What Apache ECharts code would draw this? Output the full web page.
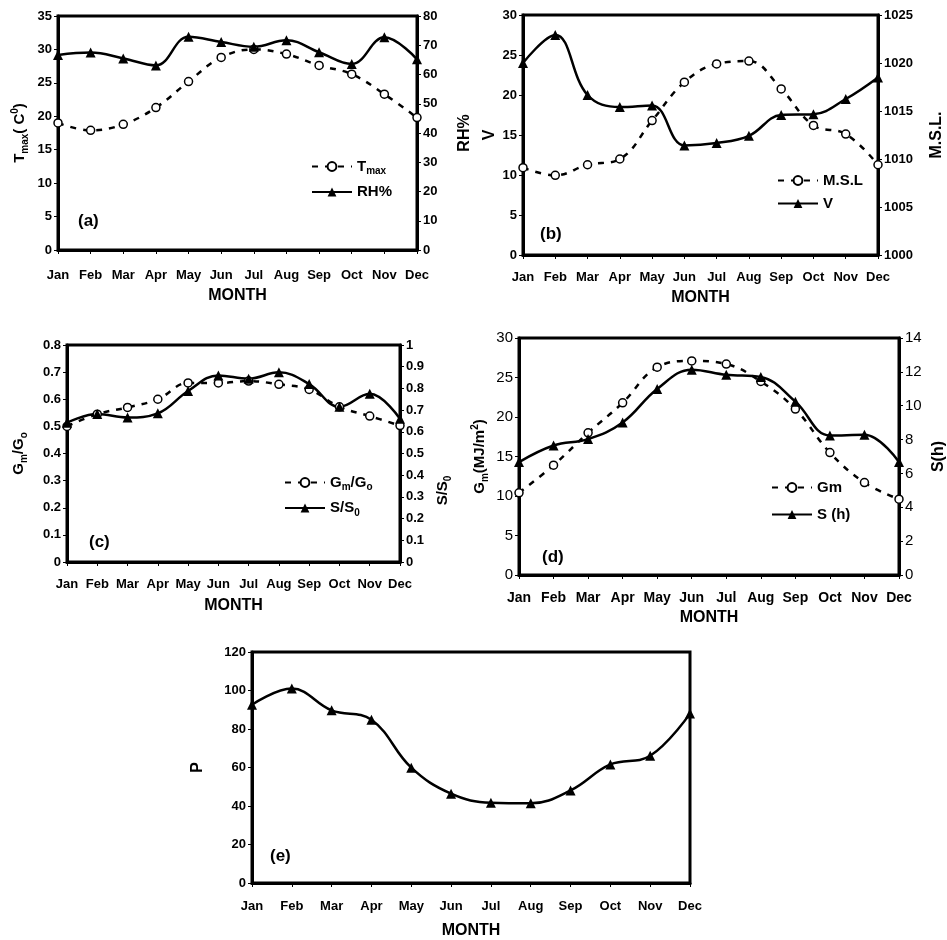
<!DOCTYPE html>
<html>
<head>
	<meta charset="utf-8"/>
	<title>Monthly climate parameters</title>
	<script type="text/javascript" src="https://cdn.jsdelivr.net/npm/echarts@6/dist/echarts.min.js"></script>
	<style type="text/css">
		html, body { margin: 0; padding: 0; background: #fff; }
		#chart { width: 947px; height: 940px; }
	</style>
</head>
<body>
	<div id="chart"></div>
<script type="text/javascript">
	var months = ['Jan', 'Feb', 'Mar', 'Apr', 'May', 'Jun', 'Jul', 'Aug', 'Sep', 'Oct', 'Nov', 'Dec'];

	// (a) max temperature and relative humidity
	var tmaxData = [19.0, 17.9, 18.8, 21.3, 25.2, 28.8, 30.0, 29.3, 27.6, 26.3, 23.3, 19.8];
	var rhData = [66.7, 67.5, 65.5, 63.1, 72.9, 71.1, 69.5, 71.7, 67.6, 63.6, 72.7, 65.2];
	// (b) wind speed and mean sea level pressure
	var vData = [24.0, 27.5, 20.0, 18.5, 18.7, 13.7, 14.0, 14.9, 17.5, 17.6, 19.5, 22.2];
	var mslData = [1009.1, 1008.3, 1009.4, 1010.0, 1014.0, 1018.0, 1019.9, 1020.2, 1017.3, 1013.5, 1012.6, 1009.4];
	// (c) clearness index and relative sunshine
	var gmgoData = [0.50, 0.545, 0.57, 0.60, 0.66, 0.66, 0.667, 0.655, 0.636, 0.572, 0.538, 0.503];
	var ssoData = [0.642, 0.682, 0.666, 0.685, 0.788, 0.86, 0.845, 0.874, 0.82, 0.715, 0.775, 0.66];
	// (d) global radiation and sunshine hours
	var gmData = [10.4, 13.9, 18.0, 21.8, 26.3, 27.1, 26.7, 24.5, 21.0, 15.5, 11.7, 9.6];
	var shData = [6.67, 7.65, 8.03, 9.01, 10.99, 12.13, 11.83, 11.7, 10.24, 8.24, 8.28, 6.67];
	// (e) precipitation
	var pData = [92.6, 101, 89.7, 84.8, 59.9, 46.4, 41.7, 41.4, 48.1, 61.6, 66.1, 88];

	// axis scales: [min, max, interval]
	var tmaxScale = [0, 35, 5], rhScale = [0, 80, 10];
	var vScale = [0, 30, 5], mslScale = [1000, 1025, 5];
	var gmgoScale = [0, 0.8, 0.1], ssoScale = [0, 1, 0.1];
	var gmScale = [0, 30, 5], shScale = [0, 14, 2];
	var pScale = [0, 120, 20];

	var FONT = '"Liberation Sans", Arial, sans-serif';
	var rich = {
		b: { fontSize: 15, fontWeight: 'bold', fontFamily: FONT, color: '#000', lineHeight: 20 },
		s: { fontSize: 10, fontWeight: 'bold', fontFamily: FONT, color: '#000', verticalAlign: 'bottom' },
		p: { fontSize: 10, fontWeight: 'bold', fontFamily: FONT, color: '#000', verticalAlign: 'top' }
	};
	var legendNames = {
		'Tmax': '{b|T}{s|max}',
		'Gm/Go': '{b|G}{s|m}{b|/G}{s|o}',
		'S/S0': '{b|S/S}{s|0}'
	};

	function xAxisOf(grid, labelSize, labelMargin, nameGap) {
		return {
			gridIndex: grid,
			type: 'category',
			boundaryGap: false,
			data: months,
			axisLine: { lineStyle: { color: '#000', width: 3 } },
			axisTick: { show: true, length: 4, lineStyle: { color: '#000', width: 1 } },
			axisLabel: { interval: 0, color: '#000', fontWeight: 'bold', fontSize: labelSize, fontFamily: FONT, margin: labelMargin },
			name: 'MONTH',
			nameLocation: 'middle',
			nameGap: nameGap,
			nameTextStyle: { color: '#000', fontWeight: 'bold', fontSize: 16, fontFamily: FONT }
		};
	}

	function yAxisOf(grid, pos, scale, name, nameGap, labelWeight, labelSize, namePad) {
		return {
			gridIndex: grid,
			type: 'value',
			position: pos,
			min: scale[0],
			max: scale[1],
			interval: scale[2],
			splitLine: { show: false },
			axisLine: { show: true, lineStyle: { color: '#000', width: 3 } },
			axisTick: { show: true, length: 4, lineStyle: { color: '#000', width: 1 } },
			axisLabel: {
				color: '#000', fontWeight: labelWeight || 'bold', fontSize: labelSize || 13, fontFamily: FONT, margin: 6,
				formatter: function (v) { return String(v); }
			},
			name: name,
			nameLocation: 'middle',
			nameRotate: 90,
			nameGap: nameGap,
			nameTextStyle: { color: '#000', fontWeight: 'bold', fontSize: 16, fontFamily: FONT, rich: rich, padding: namePad || 0 }
		};
	}

	function dashedSeries(name, xi, yi, data) {
		return {
			name: name, type: 'line', xAxisIndex: xi, yAxisIndex: yi, data: data,
			smooth: 0.4,
			symbol: 'circle', symbolSize: 8,
			lineStyle: { color: '#000', width: 2.5, type: [6, 7] },
			itemStyle: { color: '#fff', borderColor: '#000', borderWidth: 1.5 }
		};
	}

	function solidSeries(name, xi, yi, data) {
		return {
			name: name, type: 'line', xAxisIndex: xi, yAxisIndex: yi, data: data,
			smooth: 0.4,
			symbol: 'triangle', symbolSize: 10,
			lineStyle: { color: '#000', width: 2.5 },
			itemStyle: { color: '#000' }
		};
	}

	function legendOf(left, top, names, gap) {
		return {
			left: left, top: top, orient: 'vertical',
			itemWidth: 40, itemHeight: 11, itemGap: gap,
			selectedMode: false,
			data: names,
			formatter: function (name) {
				return legendNames[name] || ('{b|' + name + '}');
			},
			textStyle: { color: '#000', rich: rich }
		};
	}

	function panelLabel(text, x, y) {
		return {
			type: 'text', left: x, top: y,
			style: { text: text, fill: '#000', fontSize: 17, fontWeight: 'bold', fontFamily: FONT }
		};
	}

	var gridStyle = { show: true, borderColor: '#000', borderWidth: 3, containLabel: false, outerBoundsMode: 'none' };

	var option = {
		animation: false,
		backgroundColor: '#fff',
		grid: [
			Object.assign({ left: 58, top: 16, width: 359, height: 234 }, gridStyle),
			Object.assign({ left: 523, top: 15, width: 355, height: 240 }, gridStyle),
			Object.assign({ left: 67, top: 345, width: 333, height: 217 }, gridStyle),
			Object.assign({ left: 519, top: 338, width: 380, height: 237 }, gridStyle),
			Object.assign({ left: 252, top: 652, width: 438, height: 231 }, gridStyle)
		],
		xAxis: [
			xAxisOf(0, 13, 19, 38),
			xAxisOf(1, 13, 16, 35),
			xAxisOf(2, 13, 16, 36),
			xAxisOf(3, 14, 16, 35),
			xAxisOf(4, 13, 17, 40)
		],
		yAxis: [
			yAxisOf(0, 'left', tmaxScale, '{b|T}{s|max}{b|( C}{p|0}{b|)}', 28),
			yAxisOf(0, 'right', rhScale, 'RH%', 40),
			yAxisOf(1, 'left', vScale, 'V', 25),
			yAxisOf(1, 'right', mslScale, 'M.S.L.', 51),
			yAxisOf(2, 'left', gmgoScale, '{b|G}{s|m}{b|/G}{s|o}', 38),
			yAxisOf(2, 'right', ssoScale, '{b|S/S}{s|0}', 33, null, null, [0, 74, 0, 0]),
			yAxisOf(3, 'left', gmScale, '{b|G}{s|m}{b|(MJ/m}{p|2}{b|)}', 29, 'normal', 15),
			yAxisOf(3, 'right', shScale, 'S(h)', 32, 'normal', 15),
			yAxisOf(4, 'left', pScale, 'P', 46)
		],
		legend: [
			legendOf(306, 154, ['Tmax', 'RH%'], 8),
			legendOf(772, 168, ['M.S.L', 'V'], 8),
			legendOf(279, 470, ['Gm/Go', 'S/S0'], 8),
			legendOf(766, 475, ['Gm', 'S (h)'], 12)
		],
		graphic: [
			panelLabel('(a)', 78, 213),
			panelLabel('(b)', 540, 226),
			panelLabel('(c)', 89, 534),
			panelLabel('(d)', 542, 549),
			panelLabel('(e)', 270, 848)
		],
		series: [
			dashedSeries('Tmax', 0, 0, tmaxData),
			solidSeries('RH%', 0, 1, rhData),
			dashedSeries('M.S.L', 1, 3, mslData),
			solidSeries('V', 1, 2, vData),
			dashedSeries('Gm/Go', 2, 4, gmgoData),
			solidSeries('S/S0', 2, 5, ssoData),
			dashedSeries('Gm', 3, 6, gmData),
			solidSeries('S (h)', 3, 7, shData),
			solidSeries('P', 4, 8, pData)
		]
	};

	var chart = echarts.init(document.getElementById('chart'));
	chart.setOption(option);
</script>
</body>
</html>
